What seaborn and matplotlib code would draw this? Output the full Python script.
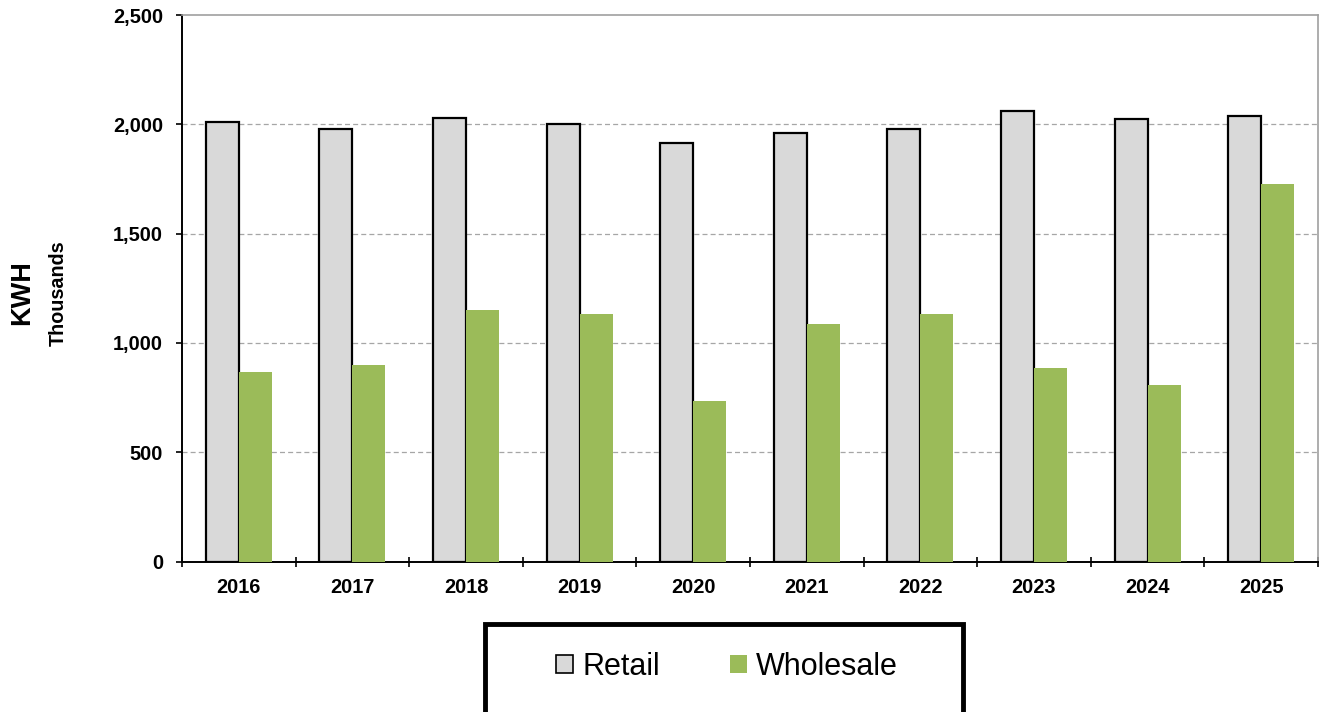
import numpy as np
import pandas as pd
import seaborn as sns
import matplotlib.pyplot as plt
from matplotlib.patches import Patch, Rectangle
from matplotlib.ticker import FuncFormatter, FixedLocator

# Data (KWH, thousands)
years = ['2016', '2017', '2018', '2019', '2020', '2021', '2022', '2023', '2024', '2025']
retail = [2009, 1978, 2030, 2003, 1916, 1959, 1980, 2062, 2024, 2038]
wholesale = [868, 899, 1150, 1132, 734, 1085, 1134, 884, 806, 1728]
series_names = ['Retail', 'Wholesale']
series_colors = ['#d9d9d9', '#9bbb59']

# Long-form table for seaborn
df = pd.DataFrame({
    'year': years * 2,
    'kwh': retail + wholesale,
    'type': [series_names[0]] * len(years) + [series_names[1]] * len(years),
})

sns.set_style('white')
plt.rcParams['font.family'] = ['Liberation Sans', 'DejaVu Sans']
plt.rcParams['text.color'] = 'black'

fig = plt.figure(figsize=(13.25, 7.12), dpi=100)
ax = fig.add_axes([182 / 1325, 1 - 561.5 / 712, (1318 - 182) / 1325, (561.5 - 15) / 712])

sns.barplot(data=df, x='year', y='kwh', hue='type', order=years, hue_order=series_names,
            palette=series_colors, width=0.58, saturation=1, ax=ax, legend=False, zorder=3)

# retail bars have a black outline, wholesale none
for bar in ax.containers[0]:
    bar.set_edgecolor('black')
    bar.set_linewidth(1.6)
for bar in ax.containers[1]:
    bar.set_edgecolor('none')
    bar.set_linewidth(0)

ax.set_xlim(-0.5, len(years) - 0.5)
ax.set_ylim(0, 2500)
ax.set_yticks(np.arange(0, 2501, 500))
ax.yaxis.set_major_formatter(FuncFormatter(lambda v, p: f'{int(v):,}'))
ax.set_xlabel('')
ax.set_ylabel('')

# gridlines
for v in [500, 1000, 1500, 2000]:
    ax.axhline(v, color='#a6a6a6', lw=0.9, ls=(0, (4, 2.5)), zorder=1)

# ticks
ax.tick_params(axis='y', which='major', direction='out', length=4.5, width=1.2,
               color='black', pad=9, labelsize=14.4, left=True, labelcolor='black')
ax.tick_params(axis='x', which='major', length=0, pad=12, labelsize=14.4, bottom=True,
               labelcolor='black')
ax.xaxis.set_minor_locator(FixedLocator(np.arange(-0.5, len(years), 1.0)))
ax.tick_params(axis='x', which='minor', direction='inout', length=7, width=1.2,
               color='black', bottom=True)
for lbl in ax.get_xticklabels() + ax.get_yticklabels():
    lbl.set_fontweight('bold')

# spines
for side in ['left', 'bottom']:
    ax.spines[side].set_color('black')
    ax.spines[side].set_linewidth(1.4)
for side in ['top', 'right']:
    ax.spines[side].set_color('#a0a0a0')
    ax.spines[side].set_linewidth(1.2)
    ax.spines[side].set_visible(True)

# axis title
fig.text(22 / 1325, 1 - 292.5 / 712, 'KWH', rotation=90, ha='center', va='center',
         fontsize=19.5, fontweight='bold', color='black')
fig.text(58 / 1325, 1 - 293 / 712, 'Thousands', rotation=90, ha='center', va='center',
         fontsize=14.2, fontweight='bold', color='black')

# legend with a thick frame that runs past the bottom edge
handles = [Patch(facecolor=series_colors[0], edgecolor='black', linewidth=1.2),
           Patch(facecolor=series_colors[1], edgecolor='none')]
leg = fig.legend(handles, series_names, loc='center', bbox_to_anchor=(727 / 1325, 1 - 667 / 712),
                 ncol=2, frameon=False, fontsize=22, handlelength=0.55, handleheight=0.55,
                 handletextpad=0.3, columnspacing=2.3)
for t in leg.get_texts():
    t.set_color('black')
fig.patches.append(Rectangle((485 / 1325, -0.02), (963 - 485) / 1325, 0.02 + (712 - 624) / 712,
                             transform=fig.transFigure, fill=False, edgecolor='black',
                             linewidth=3.5, figure=fig))

fig.savefig('out.png', dpi=100)
